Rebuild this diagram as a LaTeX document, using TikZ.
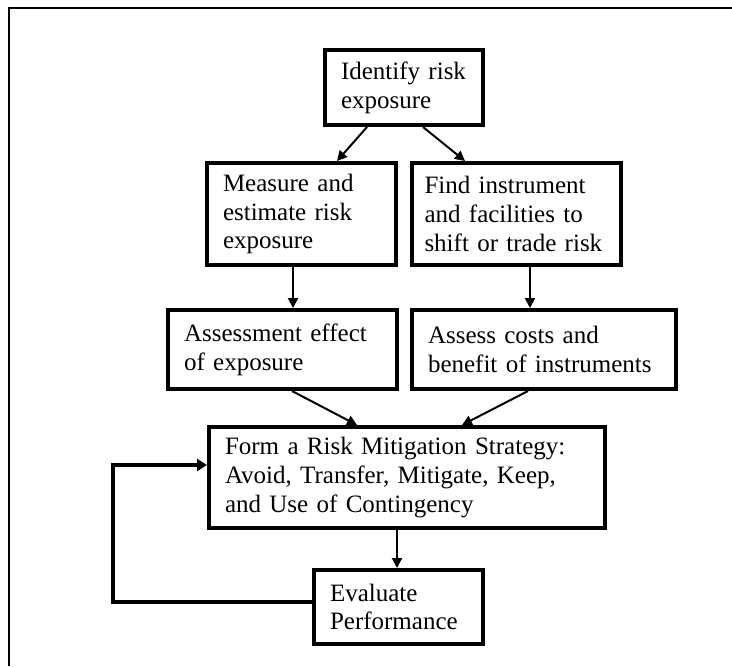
\documentclass[tikz,border=0pt]{standalone}
\usepackage{fontspec}
\setmainfont{Liberation Serif}
\usetikzlibrary{arrows.meta,positioning}

\tikzset{
  box/.style={draw,line width=2pt,inner xsep=8pt,inner ysep=0pt,align=left,
    font=\fontsize{12.5pt}{14.4pt}\selectfont},
  arr/.style={line width=1pt,-{Triangle[length=5pt,width=5pt]}},
  backarr/.style={line width=2pt,-{Triangle[length=5pt,width=6pt]}}
}

\begin{document}
\begin{tikzpicture}[x=0.5pt,y=-0.5pt]
  \useasboundingbox (0,0) rectangle (732,666);
  \draw[line width=1.25pt] (732,8) -- (9,8) -- (9,666);

  \node[box,minimum width=79pt,minimum height=37.5pt,text width=63pt] (ident) at (404,87.5)
    {Identify risk\\exposure};
  \node[box,minimum width=94.5pt,minimum height=51pt,text width=78.5pt] (measure) at (301.5,214)
    {Measure and\\estimate risk\\exposure};
  \node[box,minimum width=104.5pt,minimum height=51pt,inner xsep=6pt,text width=92pt] (findinst) at (516.5,214)
    {Find instrument\\and facilities to\\shift~or~trade~risk};
  \node[box,minimum width=114.5pt,minimum height=39.5pt,text width=98.5pt] (assess) at (282.5,349.5)
    {Assessment effect\\of exposure};
  \node[box,minimum width=132pt,minimum height=39.5pt,text width=116pt] (costs) at (544,349.5)
    {Assess costs and\\benefit of instruments};
  \node[box,minimum width=198pt,minimum height=50.5pt,text width=182pt] (strategy) at (407,477.5)
    {Form a Risk Mitigation Strategy:\\Avoid, Transfer, Mitigate, Keep,\\and Use of Contingency};
  \node[box,minimum width=84.5pt,minimum height=37pt,text width=68.5pt] (evaluate) at (398.5,607)
    {Evaluate\\Performance};
  \coordinate (back) at (113,530);

  \draw[arr] ([xshift=-18.5pt]ident.south) -- ([xshift=17.75pt]measure.north);
  \draw[arr] ([xshift=9.5pt]ident.south) -- ([xshift=-25.75pt]findinst.north);
  \draw[arr] ([xshift=-4.25pt]measure.south) -- ([xshift=-4.25pt]measure.south |- assess.north);
  \draw[arr] ([xshift=6.75pt]findinst.south) -- ([xshift=6.75pt]findinst.south |- costs.north);
  \draw[arr] ([xshift=4.75pt]assess.south) -- ([xshift=-25pt]strategy.north);
  \draw[arr] ([xshift=-8pt]costs.south) -- ([xshift=27.5pt]strategy.north);
  \draw[arr] ([xshift=-5pt]strategy.south) -- ([xshift=-5pt]strategy.south |- evaluate.north);
  \draw[backarr] ([yshift=2.5pt]evaluate.west) -| (back) |- ([yshift=6.25pt]strategy.west);
\end{tikzpicture}
\end{document}
